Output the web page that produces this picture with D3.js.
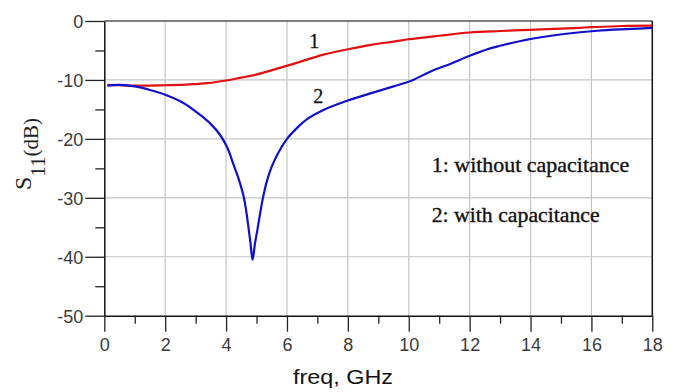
<!DOCTYPE html>
<html>
<head>
<meta charset="utf-8">
<script src="https://cdn.jsdelivr.net/npm/d3@7"></script>
<style>
  html, body { margin: 0; padding: 0; background: #fff; }
  svg { display: block; }
</style>
</head>
<body>
<svg id="chart" width="673" height="392"></svg>
<script>
// ---- data ----
const xTicks = [0, 2, 4, 6, 8, 10, 12, 14, 16, 18];
const xMinorTicks = [1, 3, 5, 7, 9, 11, 13, 15, 17];
const yTicks = [0, -10, -20, -30, -40, -50];
const yMinorTicks = [-5, -15, -25, -35, -45];

const freq1 = [0.1, 0.5, 1.0, 1.5, 2.0, 2.5, 3.0, 3.4, 4.0, 4.5, 4.8, 5.2, 5.6, 6.1, 6.5, 7.2, 8.0, 8.8, 9.5, 10.0, 11.0, 12.0, 13.0, 14.0, 15.0, 15.6, 16.0, 17.0, 18.0];
const s11_1 = [-10.85, -10.9, -10.95, -10.95, -10.9, -10.85, -10.7, -10.55, -10.1, -9.6, -9.3, -8.8, -8.2, -7.45, -6.8, -5.7, -4.8, -4.0, -3.5, -3.1, -2.5, -1.95, -1.7, -1.5, -1.3, -1.15, -1.05, -0.85, -0.8];

const freq2 = [0.1, 0.5, 1.0, 1.5, 2.0, 2.6, 3.14, 3.5, 3.8, 4.05, 4.24, 4.42, 4.57, 4.66, 4.73, 4.80, 4.87, 4.95, 5.03, 5.12, 5.22, 5.35, 5.5, 5.72, 6.0, 6.3, 6.65, 7.2, 8.0, 8.8, 9.5, 10.1, 10.7, 11.4, 12.0, 12.7, 13.0, 14.0, 15.1, 16.2, 17.3, 18.0];
const s11_2 = [-10.95, -10.85, -11.1, -11.7, -12.5, -13.9, -15.9, -17.5, -19.3, -21.6, -24.3, -26.9, -29.6, -32.2, -34.8, -37.6, -40.5, -37.7, -35.4, -32.6, -29.8, -27.0, -24.7, -22.3, -20.0, -18.3, -16.7, -15.1, -13.5, -12.2, -11.1, -10.1, -8.6, -7.2, -5.9, -4.6, -4.2, -3.05, -2.2, -1.65, -1.35, -1.15];

const curveLabels = ["1", "2"];
const curveLabelPos = [[6.9, -4.5], [7.03, -13.9]];
const legendTexts = ["1: without capacitance", "2: with capacitance"];
const xTitle = "freq, GHz";
const yTitleMain = "S", yTitleSub = "11", yTitleUnit = "(dB)";

// ---- layout ----
const svg = d3.select("#chart");
const x = d3.scaleLinear().domain([0, 18]).range([104.3, 652.3]);
const y = d3.scaleLinear().domain([-50, 0]).range([315.7, 21]);

// grid
const grid = svg.append("g").attr("stroke", "#c4c4c4").attr("stroke-width", 1.2);
grid.selectAll("line.v").data(xTicks.filter(d => d > 0 && d < 18)).enter().append("line")
  .attr("x1", d => x(d)).attr("x2", d => x(d)).attr("y1", y(0)).attr("y2", y(-50));
grid.selectAll("line.h").data(yTicks.filter(d => d < 0 && d > -50)).enter().append("line")
  .attr("x1", x(0)).attr("x2", x(18)).attr("y1", d => y(d)).attr("y2", d => y(d));

// top border and right border
svg.append("line").attr("x1", x(0)).attr("x2", x(18)).attr("y1", y(0)).attr("y2", y(0))
  .attr("stroke", "#555").attr("stroke-width", 1.5);
svg.append("line").attr("x1", x(18)).attr("x2", x(18)).attr("y1", y(0)).attr("y2", y(-50))
  .attr("stroke", "#111").attr("stroke-width", 1.5);

// axes
const fmt = d => String(d);
function styleAxis(g, showText) {
  g.select(".domain").attr("stroke", "#111").attr("stroke-width", 1.5);
  g.selectAll(".tick line").attr("stroke", "#222").attr("stroke-width", 1.3);
  g.selectAll(".tick text").attr("fill", "#3a3a3a")
    .style("font-family", "'Liberation Sans', Arial, sans-serif").style("font-size", "18px");
  if (!showText) g.selectAll(".tick text").remove();
}

const yAxisMinor = svg.append("g").attr("transform", `translate(${x(0)},0)`)
  .call(d3.axisLeft(y).tickValues(yMinorTicks).tickSize(9).tickFormat(""));
styleAxis(yAxisMinor, false);
yAxisMinor.select(".domain").remove();

const yAxis = svg.append("g").attr("transform", `translate(${x(0)},0)`)
  .call(d3.axisLeft(y).tickValues(yTicks).tickSize(19).tickSizeOuter(0).tickPadding(2).tickFormat(fmt));
styleAxis(yAxis, true);
yAxis.selectAll(".tick text").attr("dy", "0.36em");

const xAxisMinor = svg.append("g").attr("transform", `translate(0,${y(-50)})`)
  .call(d3.axisBottom(x).tickValues(xMinorTicks).tickSize(8).tickFormat(""));
styleAxis(xAxisMinor, false);
xAxisMinor.select(".domain").remove();

const xAxis = svg.append("g").attr("transform", `translate(0,${y(-50)})`)
  .call(d3.axisBottom(x).tickValues(xTicks).tickSize(16).tickSizeOuter(0).tickPadding(7).tickFormat(fmt));
styleAxis(xAxis, true);

// curves
const line = d3.line().x(d => x(d[0])).y(d => y(d[1])).curve(d3.curveCatmullRom.alpha(0.5));
const data1 = freq1.map((f, i) => [f, s11_1[i]]);
const data2 = freq2.map((f, i) => [f, s11_2[i]]);
svg.append("path").datum(data1).attr("d", line).attr("fill", "none")
  .attr("stroke", "#e01010").attr("stroke-width", 2.2);
svg.append("path").datum(data2).attr("d", line).attr("fill", "none")
  .attr("stroke", "#1010cc").attr("stroke-width", 2.2).attr("stroke-linejoin", "round");

// curve labels
svg.selectAll("text.clabel").data(curveLabels).enter().append("text")
  .attr("x", (d, i) => x(curveLabelPos[i][0])).attr("y", (d, i) => y(curveLabelPos[i][1]))
  .attr("text-anchor", "middle")
  .style("font-family", "'Liberation Serif', 'Times New Roman', serif").style("font-size", "20px")
  .attr("fill", "#111").attr("stroke", "#111").attr("stroke-width", 0.3).text(d => d);

// legend texts
const legendX = 431.7, legendY = [171.7, 222], legendLen = [197.6, 168];
svg.selectAll("text.leg").data(legendTexts).enter().append("text")
  .attr("x", legendX).attr("y", (d, i) => legendY[i])
  .attr("textLength", (d, i) => legendLen[i]).attr("lengthAdjust", "spacingAndGlyphs")
  .style("font-family", "'Liberation Serif', 'Times New Roman', serif").style("font-size", "21px")
  .attr("fill", "#111").attr("stroke", "#111").attr("stroke-width", 0.35).text(d => d);

// x title
svg.append("text").attr("x", 343).attr("y", 384).attr("text-anchor", "middle")
  .attr("textLength", 100).attr("lengthAdjust", "spacingAndGlyphs")
  .style("font-family", "'Liberation Sans', Arial, sans-serif").style("font-size", "21px")
  .attr("fill", "#111").text(xTitle);

// y title
const yt = svg.append("text").attr("transform", "translate(31,190) rotate(-90)")
  .style("font-family", "'Liberation Serif', 'Times New Roman', serif").attr("fill", "#222");
yt.append("tspan").style("font-size", "24px").text(yTitleMain);
yt.append("tspan").style("font-size", "21px").attr("dy", 14).text(yTitleSub);
yt.append("tspan").style("font-size", "21px").attr("dy", -7).text(yTitleUnit);
</script>
</body>
</html>
